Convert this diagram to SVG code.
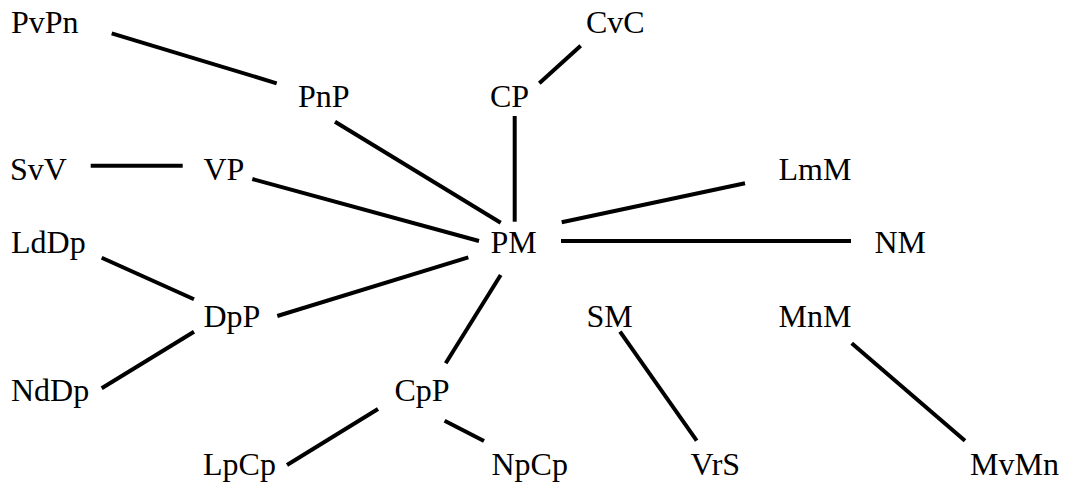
<svg xmlns="http://www.w3.org/2000/svg" width="1068" height="487" viewBox="0 0 1068 487">
<style>
text{font-family:"Liberation Serif","Times New Roman",serif;font-size:32px;fill:#000}
#edges line{stroke:#000;stroke-width:4;stroke-linecap:butt}
</style>
<rect width="1068" height="487" fill="#fff"/>
<g id="edges">
<line x1="111.7" y1="33.3" x2="276.7" y2="83.3"/>
<line x1="580.7" y1="45.7" x2="539.3" y2="83.3"/>
<line x1="335" y1="121.7" x2="500.7" y2="222.7"/>
<line x1="514.7" y1="116" x2="514.7" y2="221.7"/>
<line x1="90.7" y1="165.7" x2="182.7" y2="165.7"/>
<line x1="252.3" y1="179" x2="479" y2="241"/>
<line x1="745" y1="183.3" x2="561.7" y2="222.3"/>
<line x1="561" y1="241" x2="851" y2="241"/>
<line x1="101.7" y1="257.7" x2="194" y2="299.3"/>
<line x1="277.3" y1="316" x2="468.3" y2="257.3"/>
<line x1="194" y1="331.7" x2="101.7" y2="388.3"/>
<line x1="500.7" y1="275" x2="445.7" y2="363.3"/>
<line x1="620" y1="331.7" x2="696.7" y2="440.7"/>
<line x1="851.7" y1="343.3" x2="965" y2="440.7"/>
<line x1="378" y1="409" x2="287" y2="465"/>
<line x1="444.6" y1="420.7" x2="484" y2="441"/>
</g>
<g id="PvPn"><text x="11" y="33">PvPn</text></g>
<g id="CvC"><text x="586" y="33">CvC</text></g>
<g id="PnP"><text x="298" y="107">PnP</text></g>
<g id="CP"><text x="490" y="107">CP</text></g>
<g id="SvV"><text x="10" y="180">SvV</text></g>
<g id="VP"><text x="203.5" y="180">VP</text></g>
<g id="LmM"><text x="778.5" y="180">LmM</text></g>
<g id="LdDp"><text x="11" y="253">LdDp</text></g>
<g id="PM"><text x="490.5" y="253">PM</text></g>
<g id="NM"><text x="874.5" y="253">NM</text></g>
<g id="DpP"><text x="203.5" y="327">DpP</text></g>
<g id="SM"><text x="586.5" y="327">SM</text></g>
<g id="MnM"><text x="778.5" y="327">MnM</text></g>
<g id="NdDp"><text x="11" y="401">NdDp</text></g>
<g id="CpP"><text x="394.5" y="401">CpP</text></g>
<g id="LpCp"><text x="203" y="475">LpCp</text></g>
<g id="NpCp"><text x="491.5" y="475">NpCp</text></g>
<g id="VrS"><text x="690.5" y="475">VrS</text></g>
<g id="MvMn"><text x="970" y="475">MvMn</text></g>
</svg>
